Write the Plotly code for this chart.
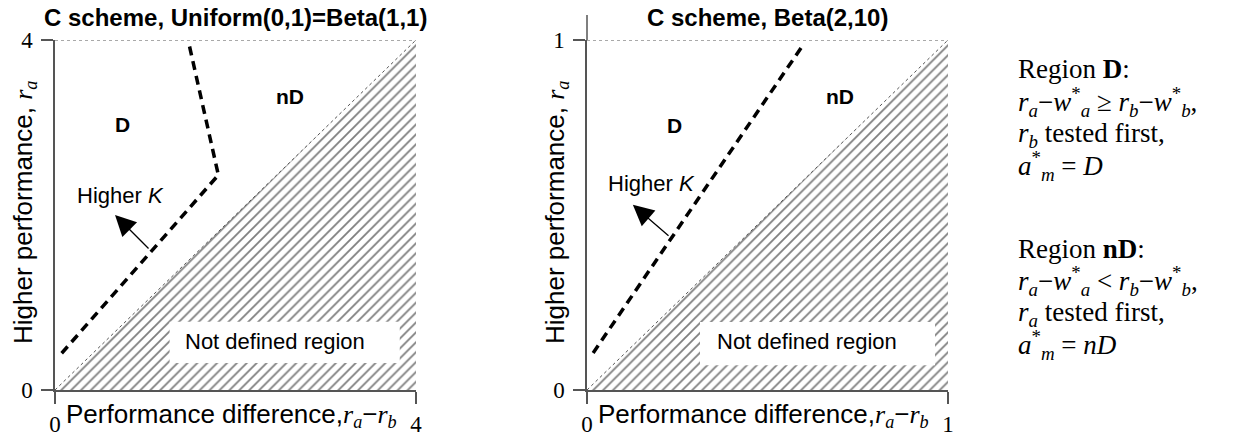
import plotly.graph_objects as go

# ---------------- data ----------------
panel_titles = ["C scheme, Uniform(0,1)=Beta(1,1)", "C scheme, Beta(2,10)"]
axis_max = [4, 1]
tick_vals = [[0, 4], [0, 1]]
tick_text = [["0", "4"], ["0", "1"]]

# dashed "K" boundary curves
k_curve_x = [[0.074, 1.81, 1.477], [0.017, 0.598]]
k_curve_y = [[0.42, 2.457, 3.99], [0.106, 0.985]]

# "Not defined region" label box corners
box_x = [[1.27, 3.82], [0.313, 0.964]]
box_y = [[0.31, 0.78], [0.071, 0.194]]
box_label_xy = [[2.44, 0.549], [0.609, 0.14]]

# arrows (tail -> head) and labels
arrow_tail = [[1.053, 1.6], [0.23, 0.437]]
arrow_head = [[0.665, 2.0], [0.127, 0.529]]
higherk_xy = [[0.73, 2.22], [0.18, 0.589]]
d_xy = [[0.753, 3.03], [0.241, 0.757]]
nd_xy = [[2.60, 3.35], [0.70, 0.84]]

region_d_lines = [
    "Region <b>D</b>:",
    "<i>r</i><sub><i>a</i></sub>−<i>w</i><sup>*</sup><sub><i>a</i></sub> ≥ <i>r</i><sub><i>b</i></sub>−<i>w</i><sup>*</sup><sub><i>b</i></sub>,",
    "<i>r</i><sub><i>b</i></sub> tested first,",
    "<i>a</i><sup>*</sup><sub><i>m</i></sub> = <i>D</i>",
]
region_nd_lines = [
    "Region <b>nD</b>:",
    "<i>r</i><sub><i>a</i></sub>−<i>w</i><sup>*</sup><sub><i>a</i></sub> &lt; <i>r</i><sub><i>b</i></sub>−<i>w</i><sup>*</sup><sub><i>b</i></sub>,",
    "<i>r</i><sub><i>a</i></sub> tested first,",
    "<i>a</i><sup>*</sup><sub><i>m</i></sub> = <i>nD</i>",
]

# ---------------- layout geometry ----------------
W, H = 1249, 439
x_domains = [[55 / W, 416 / W], [587 / W, 948 / W]]
y_domain = [1 - 390 / H, 1 - 40 / H]
text_left_px = 1016
region_d_centers_px = [69, 102, 135, 166]
region_nd_centers_px = [249, 281, 314, 345]

SANS = "Liberation Sans, Arial, sans-serif"
SERIF = "Liberation Serif, Times New Roman, serif"
AXIS_COLOR = "#555555"

fig = go.Figure()
annotations = []
shapes = []

for i in range(2):
    m = axis_max[i]
    xa = "x" if i == 0 else "x2"
    ya = "y" if i == 0 else "y2"

    # hatched not-defined region (below diagonal)
    fig.add_trace(go.Scatter(
        x=[0, m, m, 0], y=[0, 0, m, 0], xaxis=xa, yaxis=ya,
        mode="lines", fill="toself", fillcolor="white",
        fillpattern=dict(shape="/", fgcolor="#000000", bgcolor="white",
                         size=7, solidity=0.26),
        line=dict(width=0), hoverinfo="skip", showlegend=False, cliponaxis=False))

    # dotted diagonal
    fig.add_trace(go.Scatter(
        x=[0, m], y=[0, m], xaxis=xa, yaxis=ya, mode="lines",
        line=dict(color="#555555", width=1, dash="dot"),
        hoverinfo="skip", showlegend=False, cliponaxis=False))

    # dotted top line
    fig.add_trace(go.Scatter(
        x=[0, m], y=[m, m], xaxis=xa, yaxis=ya, mode="lines",
        line=dict(color="#555555", width=1, dash="dot"),
        hoverinfo="skip", showlegend=False, cliponaxis=False))

    # white label box
    bx, by = box_x[i], box_y[i]
    fig.add_trace(go.Scatter(
        x=[bx[0], bx[1], bx[1], bx[0], bx[0]],
        y=[by[0], by[0], by[1], by[1], by[0]],
        xaxis=xa, yaxis=ya, mode="lines", fill="toself", fillcolor="white",
        line=dict(width=0), hoverinfo="skip", showlegend=False))

    # dashed K boundary
    fig.add_trace(go.Scatter(
        x=k_curve_x[i], y=k_curve_y[i], xaxis=xa, yaxis=ya, mode="lines",
        line=dict(color="black", width=3.5, dash="9px,6px"),
        hoverinfo="skip", showlegend=False, cliponaxis=False))

    # texts inside plot
    annotations.append(dict(
        x=box_label_xy[i][0], y=box_label_xy[i][1], xref=xa, yref=ya,
        text="Not defined region", showarrow=False,
        font=dict(family=SANS, size=22, color="black")))
    annotations.append(dict(
        x=higherk_xy[i][0], y=higherk_xy[i][1], xref=xa, yref=ya,
        text="Higher <i>K</i>", showarrow=False,
        font=dict(family=SANS, size=22, color="black")))
    annotations.append(dict(
        x=d_xy[i][0], y=d_xy[i][1], xref=xa, yref=ya,
        text="<b>D</b>", showarrow=False,
        font=dict(family=SANS, size=21, color="black")))
    annotations.append(dict(
        x=nd_xy[i][0], y=nd_xy[i][1], xref=xa, yref=ya,
        text="<b>nD</b>", showarrow=False,
        font=dict(family=SANS, size=21, color="black")))
    annotations.append(dict(
        x=arrow_head[i][0], y=arrow_head[i][1], xref=xa, yref=ya,
        ax=arrow_tail[i][0], ay=arrow_tail[i][1], axref=xa, ayref=ya,
        text="", showarrow=True, arrowhead=2, arrowsize=3.2, arrowwidth=1.3,
        arrowcolor="black", standoff=0, startstandoff=0))

    # panel title
    xd = x_domains[i]
    annotations.append(dict(
        x=0.5, y=1 - 18 / H, xref=xa + " domain", yref="paper",
        text="<b>%s</b>" % panel_titles[i],
        showarrow=False, xanchor="center", yanchor="middle",
        font=dict(family=SANS, size=24, color="black")))

    # x axis title
    annotations.append(dict(
        x=0.49, y=1 - 415 / H, xref=xa + " domain", yref="paper",
        text="Performance difference,<span style='font-family:Liberation Serif'>"
             "<i>r</i><sub><i>a</i></sub></span>−<span style='font-family:Liberation Serif'>"
             "<i>r</i><sub><i>b</i></sub></span>",
        showarrow=False, xanchor="center", yanchor="middle",
        font=dict(family=SANS, size=26, color="black")))

    # y axis title
    annotations.append(dict(
        x=xd[0] - 31 / W, y=1 - 213 / H, xref="paper", yref="paper",
        text="Higher performance, <span style='font-family:Liberation Serif'>"
             "<i>r</i><sub><i>a</i></sub></span>",
        showarrow=False, textangle=-90, xanchor="center", yanchor="middle",
        font=dict(family=SANS, size=26, color="black")))

    axis_common = dict(
        range=[0, m], showgrid=False, zeroline=False, showline=True,
        automargin=False,
        linecolor=AXIS_COLOR, linewidth=1.5, ticks="outside", ticklen=12,
        tickwidth=1.5, tickcolor=AXIS_COLOR, tickvals=tick_vals[i],
        ticktext=tick_text[i], tickfont=dict(family=SERIF, size=23, color="black"),
        fixedrange=True)
    fig.update_layout(**{
        ("xaxis" if i == 0 else "xaxis2"): dict(
            domain=xd, anchor=ya, ticklabelstandoff=1, **axis_common),
        ("yaxis" if i == 0 else "yaxis2"): dict(
            domain=y_domain, anchor=xa, ticklabelstandoff=4, **axis_common),
    })

# extension of right panel's y-axis line above the top tick
shapes.append(dict(type="line", xref="x2 domain", yref="y2 domain",
                   x0=0, x1=0, y0=1, y1=1 + 25 / 350,
                   line=dict(color=AXIS_COLOR, width=1.5)))

# right side region descriptions (one annotation per line)
for lines, centers in ((region_d_lines, region_d_centers_px),
                       (region_nd_lines, region_nd_centers_px)):
    for txt, cy in zip(lines, centers):
        annotations.append(dict(
            x=text_left_px / W, y=1 - cy / H, xref="paper", yref="paper",
            text=txt, showarrow=False, align="left",
            xanchor="left", yanchor="middle",
            font=dict(family=SERIF, size=27, color="black")))

fig.update_layout(
    width=W, height=H, margin=dict(l=0, r=0, t=0, b=0),
    paper_bgcolor="white", plot_bgcolor="white",
    showlegend=False, annotations=annotations, shapes=shapes)

fig.write_html("out.html", config={"displayModeBar": False})
